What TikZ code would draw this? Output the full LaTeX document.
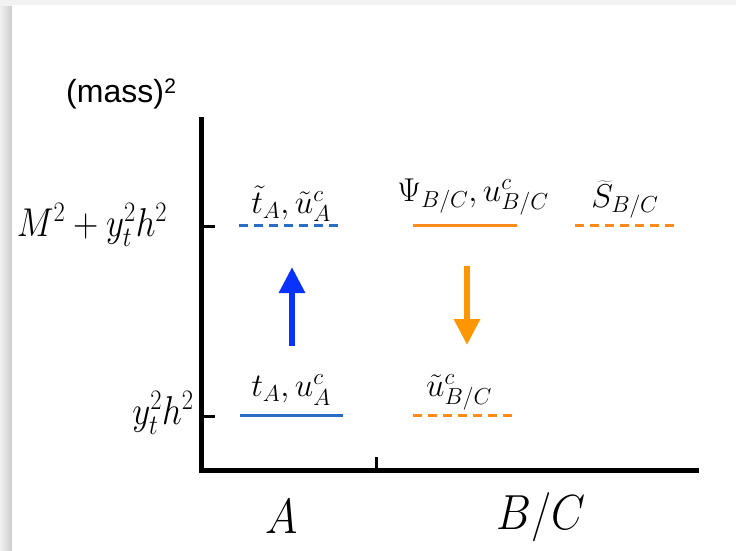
\RequirePackage{fix-cm}
\documentclass[tikz,border=0pt]{standalone}
\usepackage{fontspec}
\setsansfont{Liberation Sans}
\usepackage{graphicx}
\usetikzlibrary{arrows.meta}
\definecolor{lvblue}{RGB}{43,108,196}
\definecolor{lvorange}{RGB}{255,140,26}
\definecolor{arblue}{RGB}{10,50,255}
\definecolor{arorange}{RGB}{255,150,0}
\tikzset{
  axisline/.style={line width=5pt, line join=miter},
  tickline/.style={line width=3pt},
  levelsolid/.style={line width=3pt},
  leveldash/.style={line width=3pt, dash pattern=on 8.5pt off 6.5pt},
  lvlabel/.style={inner sep=0pt, font=\fontsize{33}{38}\selectfont},
  axlabel/.style={inner sep=0pt, font=\fontsize{35}{40}\selectfont},
  catlabel/.style={inner sep=0pt, font=\fontsize{44}{50}\selectfont},
  bigarrow/.style={line width=6pt, -{Triangle[length=26pt,width=25pt]}},
}
\newcommand{\vstretch}[2][1.12]{\scalebox{1}[#1]{#2}}
\begin{document}
\begin{tikzpicture}[x=1pt,y=-1pt]
\useasboundingbox (0,0) rectangle (736,551);
% card shadow
\fill[gray!10] (0,0) rectangle (736,551);
\shade[left color=gray!12, right color=gray!40] (0,7) rectangle (12,551);
\fill[white] (12,5) rectangle (736,551);
% axes
\coordinate (top) at (201,117);
\coordinate (orig) at (201,470);
\coordinate (xend) at (699,470);
\draw[axisline] (top) -- (orig) -- (xend);
\coordinate (t1a) at (201,226); \coordinate (t1b) at (215,226);
\coordinate (t0a) at (201,416); \coordinate (t0b) at (215,416);
\coordinate (txa) at (376,457); \coordinate (txb) at (376,470);
\draw[tickline] (t1a) -- (t1b);
\draw[tickline] (t0a) -- (t0b);
\draw[tickline] (txa) -- (txb);
% axis labels
\node[font=\sffamily\fontsize{32}{36}\selectfont, inner sep=0pt, anchor=west] (mass) at (66,94) {(mass)\kern0.5pt\raisebox{9pt}{\fontsize{21}{22}\selectfont 2}};
\node[axlabel] (yM) at (92,225) {\vstretch[1.15]{$M^2+y_t^2h^2$}};
\node[axlabel] (y0) at (163,413) {\vstretch[1.15]{$y_t^2h^2$}};
\node[catlabel] (cA) at (282,517) {\vstretch{$A$}};
\node[catlabel] (cBC) at (541,517) {\vstretch{$B/C$}};
% levels
\coordinate (L1a) at (239,225); \coordinate (L1b) at (340,225);
\coordinate (L2a) at (413,225); \coordinate (L2b) at (517,225);
\coordinate (L3a) at (575,225); \coordinate (L3b) at (675,225);
\coordinate (L4a) at (240,415); \coordinate (L4b) at (343,415);
\coordinate (L5a) at (413,415); \coordinate (L5b) at (513,415);
\draw[leveldash, lvblue] (L1a) -- (L1b);
\draw[levelsolid, lvorange] (L2a) -- (L2b);
\draw[leveldash, lvorange] (L3a) -- (L3b);
\draw[levelsolid, lvblue] (L4a) -- (L4b);
\draw[leveldash, lvorange] (L5a) -- (L5b);
% level labels
\node[lvlabel] (n1) at (291,204) {$\tilde t_A,\tilde u^c_A$};
\node[lvlabel] (n2) at (473,197) {$\Psi_{B/C},u^c_{B/C}$};
\node[lvlabel] (n3) at (625,200) {$\widetilde S_{B/C}$};
\node[lvlabel] (n4) at (291,390) {$t_A,u^c_A$};
\node[lvlabel] (n5) at (459,392) {$\tilde u^c_{B/C}$};
% arrows
\coordinate (ab0) at (292,346); \coordinate (ab1) at (292,267);
\coordinate (ao0) at (467,266); \coordinate (ao1) at (467,345);
\draw[bigarrow, arblue] (ab0) -- (ab1);
\draw[bigarrow, arorange] (ao0) -- (ao1);
\end{tikzpicture}
\end{document}
